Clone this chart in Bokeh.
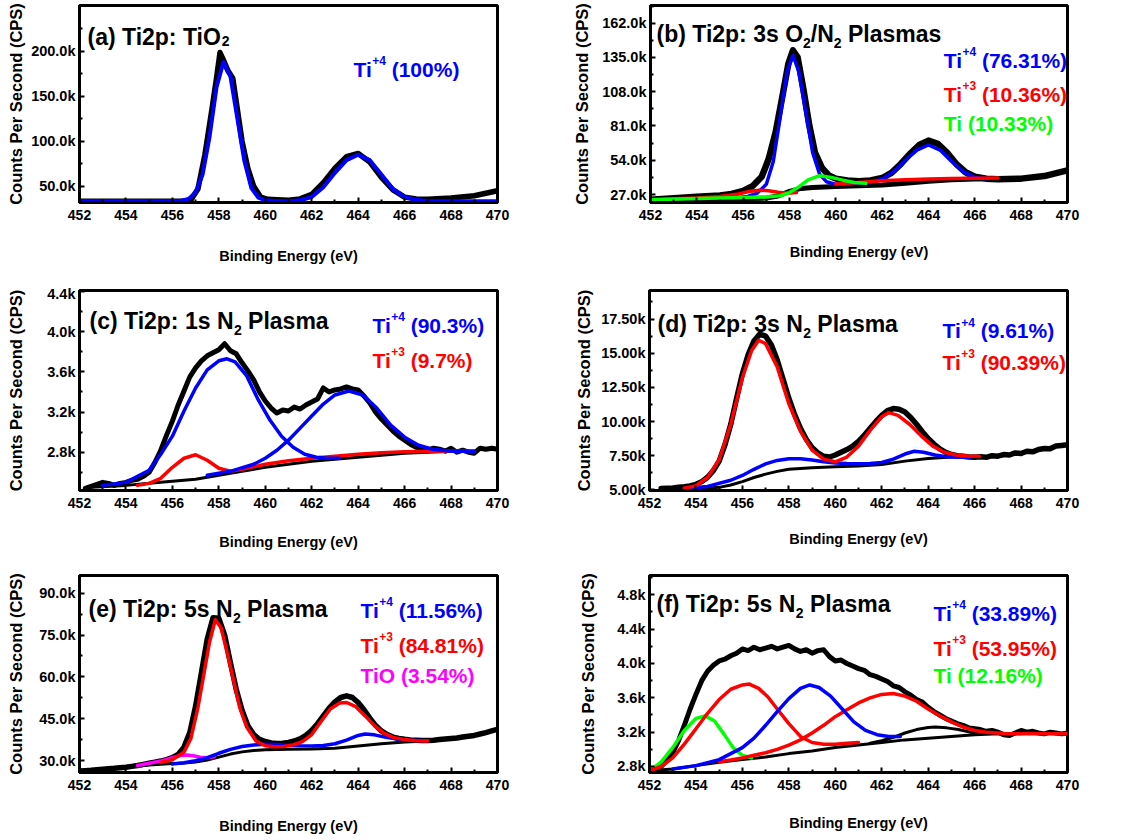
import math
from bokeh.plotting import figure
from bokeh.models import Label, FixedTicker, Range1d
from bokeh.layouts import column, row
from bokeh.embed import file_html
from bokeh.resources import INLINE

FONT = "Liberation Sans"
BLUE, RED, GREEN, MAGENTA, BLACK = "#0000FF", "#FF0000", "#00FF00", "#FF00FF", "#000000"

# ---------------- data ----------------
X_TICKS = [452, 454, 456, 458, 460, 462, 464, 466, 468, 470]
X_MINOR = [453, 455, 457, 459, 461, 463, 465, 467, 469]
X_LABEL = "Binding Energy (eV)"
Y_LABEL = "Counts Per Second (CPS)"

E_GRID = [452.0, 452.25, 452.5, 452.75, 453.0, 453.25, 453.5, 453.75, 454.0, 454.25, 454.5, 454.75,
          455.0, 455.25, 455.5, 455.75, 456.0, 456.25, 456.5, 456.75, 457.0, 457.25, 457.5, 457.75,
          458.0, 458.25, 458.5, 458.75, 459.0, 459.25, 459.5, 459.75, 460.0, 460.25, 460.5, 460.75,
          461.0, 461.25, 461.5, 461.75, 462.0, 462.25, 462.5, 462.75, 463.0, 463.25, 463.5, 463.75,
          464.0, 464.25, 464.5, 464.75, 465.0, 465.25, 465.5, 465.75, 466.0, 466.25, 466.5, 466.75,
          467.0, 467.25, 467.5, 467.75, 468.0, 468.25, 468.5, 468.75, 469.0, 469.25, 469.5, 469.75, 470.0]

# (a) TiO2  (kCPS)
A_YTICKS = [50, 100, 150, 200]
A_YLABELS = ["50.0k", "100.0k", "150.0k", "200.0k"]
A_RAW_X = [452.0, 456.5, 456.8, 457.1, 457.4, 457.7, 457.9, 458.05, 458.2, 458.4, 458.6, 458.8, 459.0, 459.25,
           459.5, 459.8, 460.1, 460.5, 461.0, 461.5, 462.0, 462.5, 463.0, 463.5, 464.0, 464.5, 465.0, 465.5,
           466.0, 466.5, 467.0, 468.0, 469.0, 470.0]
A_RAW_Y = [33.5, 33.5, 35.0, 47.0, 85.0, 135.0, 170.0, 198.5, 190.0, 178.0, 170.0, 135.0, 100.0, 70.0,
           50.0, 38.0, 35.5, 35.0, 34.5, 36.0, 41.0, 54.0, 70.0, 83.0, 86.5, 77.0, 60.0, 46.0,
           38.0, 36.0, 35.5, 37.0, 39.5, 45.0]
A_TI4_X = [452.0, 456.3, 456.7, 457.0, 457.3, 457.6, 457.9, 458.2, 458.5, 458.8, 459.1, 459.4, 459.7, 460.0,
           460.5, 461.0, 461.5, 462.0, 462.5, 463.0, 463.5, 464.0, 464.5, 465.0, 465.5, 466.0, 466.5, 467.0, 470.0]
A_TI4_Y = [33.5, 33.5, 36.0, 43.0, 63.0, 105.0, 160.0, 188.0, 172.0, 125.0, 78.0, 48.0, 37.5, 34.5,
           33.5, 33.5, 34.5, 38.0, 49.0, 65.0, 79.0, 85.0, 79.0, 63.0, 47.0, 38.0, 35.0, 33.5, 33.5]

# (b) 3s O2/N2
B_YTICKS = [27, 54, 81, 108, 135, 162]
B_YLABELS = ["27.0k", "54.0k", "81.0k", "108.0k", "135.0k", "162.0k"]
B_RAW_X = [452.0, 453.0, 454.0, 455.0, 455.5, 456.0, 456.4, 456.8, 457.1, 457.4, 457.7, 457.95, 458.15, 458.35,
           458.6, 458.85, 459.1, 459.4, 459.7, 460.0, 460.5, 461.0, 461.5, 462.0, 462.4, 462.8, 463.2, 463.6,
           464.0, 464.4, 464.8, 465.2, 465.6, 466.0, 466.5, 467.0, 468.0, 469.0, 470.0]
B_RAW_Y = [22.8, 24.0, 25.2, 26.3, 27.5, 29.8, 33.5, 41.0, 55.0, 76.0, 105.0, 130.0, 140.5, 135.0,
           110.0, 82.0, 60.0, 48.0, 42.0, 39.5, 38.0, 37.5, 38.0, 40.0, 44.0, 51.0, 59.0, 66.0,
           69.5, 67.0, 60.0, 51.0, 44.5, 41.0, 39.5, 39.0, 39.5, 41.5, 46.0]
B_BG_X = [452.0, 454.0, 456.0, 457.0, 457.5, 458.0, 458.5, 459.0, 459.5, 460.0, 461.0, 462.0, 463.0, 464.0,
          465.0, 466.0, 467.0]
B_BG_Y = [22.8, 23.2, 23.6, 24.2, 25.8, 29.5, 31.8, 32.6, 33.0, 33.3, 33.8, 34.4, 35.8, 37.4, 38.6, 39.2, 39.4]
B_TI4_X = [455.5, 456.2, 456.6, 457.0, 457.3, 457.6, 457.9, 458.15, 458.4, 458.7, 459.0, 459.3, 459.6, 460.0,
           460.5, 461.0, 461.5, 462.0, 462.5, 463.0, 463.5, 464.0, 464.5, 465.0, 465.5, 466.0, 466.5]
B_TI4_Y = [24.0, 25.5, 28.0, 35.0, 53.0, 88.0, 124.0, 136.5, 124.0, 92.0, 60.0, 43.0, 37.0, 35.0,
           35.0, 35.5, 36.5, 39.0, 45.0, 54.0, 62.0, 66.0, 62.0, 53.0, 45.0, 40.5, 39.5]
B_TI3A_X = [452.0, 454.0, 455.0, 455.8, 456.3, 456.7, 457.1, 457.5, 457.9, 458.3]
B_TI3A_Y = [22.8, 24.2, 25.5, 27.5, 29.5, 30.4, 30.0, 28.8, 28.0, 28.5]
B_TI3B_X = [460.0, 460.5, 461.0, 461.5, 462.0, 463.0, 464.0, 465.0, 466.0, 467.0]
B_TI3B_Y = [35.2, 35.8, 36.5, 37.2, 37.8, 38.6, 39.2, 39.6, 39.9, 40.0]
B_TI0_X = [452.0, 454.0, 456.0, 457.0, 457.6, 458.0, 458.4, 458.8, 459.3, 459.8, 460.3, 460.8, 461.3]
B_TI0_Y = [22.8, 23.8, 24.6, 25.0, 26.0, 28.5, 33.0, 38.5, 41.8, 40.5, 38.3, 36.5, 35.8]

# (c) 1s N2
C_YTICKS = [2.8, 3.2, 3.6, 4.0, 4.4]
C_YLABELS = ["2.8k", "3.2k", "3.6k", "4.0k", "4.4k"]
C_RAW_Y = [2.44, 2.46, 2.48, 2.50, 2.49, 2.47, 2.49, 2.50,
           2.52, 2.53, 2.56, 2.60, 2.70, 2.82, 2.97, 3.11,
           3.27, 3.41, 3.55, 3.64, 3.71, 3.76, 3.79, 3.82,
           3.88, 3.81, 3.78, 3.69, 3.61, 3.52, 3.40, 3.31,
           3.24, 3.19, 3.22, 3.21, 3.25, 3.23, 3.27, 3.30,
           3.33, 3.44, 3.40, 3.42, 3.43, 3.45, 3.43, 3.42,
           3.36, 3.29, 3.20, 3.13, 3.07, 3.01, 2.96, 2.92,
           2.88, 2.85, 2.84, 2.82, 2.84, 2.83, 2.81, 2.84,
           2.80, 2.82, 2.80, 2.79, 2.84, 2.83, 2.84, 2.83]
C_BG_X = [452.3, 454.0, 455.0, 456.0, 457.0, 458.0, 459.0, 460.0, 461.0, 462.0, 463.0, 464.0, 465.0, 466.0,
          467.0, 468.0, 469.0]
C_BG_Y = [2.45, 2.47, 2.49, 2.51, 2.53, 2.57, 2.61, 2.65, 2.68, 2.71, 2.73, 2.75, 2.77, 2.79, 2.80, 2.81, 2.81]
C_TI3_X = [454.5, 455.0, 455.5, 456.0, 456.5, 457.0, 457.5, 458.0, 458.5, 459.0, 460.0, 461.0, 462.0, 463.0,
           464.0, 465.0, 466.0, 467.0, 468.0, 469.0]
C_TI3_Y = [2.47, 2.49, 2.54, 2.65, 2.74, 2.775, 2.72, 2.64, 2.61, 2.63, 2.68, 2.715, 2.74, 2.76,
           2.78, 2.795, 2.805, 2.81, 2.81, 2.81]
C_TI4A_X = [453.0, 454.0, 455.0, 455.5, 456.0, 456.5, 457.0, 457.5, 458.0, 458.35, 458.7, 459.2, 459.7, 460.2,
            460.7, 461.2, 461.7, 462.2, 462.7, 463.2]
C_TI4A_Y = [2.47, 2.50, 2.62, 2.78, 2.96, 3.21, 3.44, 3.62, 3.71, 3.73, 3.70, 3.56, 3.32, 3.12,
            2.96, 2.85, 2.78, 2.75, 2.74, 2.74]
C_TI4B_X = [457.5, 458.5, 459.5, 460.0, 460.5, 461.0, 461.5, 462.0, 462.5, 463.0, 463.6, 464.2, 464.8, 465.4,
            466.0, 466.6, 467.2, 468.0, 469.0]
C_TI4B_Y = [2.57, 2.61, 2.68, 2.74, 2.82, 2.92, 3.04, 3.16, 3.28, 3.37, 3.41, 3.37, 3.24, 3.07,
            2.95, 2.87, 2.83, 2.81, 2.81]

# (d) 3s N2
D_YTICKS = [5.0, 7.5, 10.0, 12.5, 15.0, 17.5]
D_YLABELS = ["5.00k", "7.50k", "10.00k", "12.50k", "15.00k", "17.50k"]
D_RAW_Y = [5.10, 5.12, 5.14, 5.18, 5.22, 5.28, 5.40,
           5.60, 5.92, 6.40, 7.10, 8.30, 9.80, 11.70, 13.50,
           14.90, 15.90, 16.40, 16.25, 15.60, 14.50, 13.10, 11.70,
           10.50, 9.50, 8.70, 8.10, 7.70, 7.45, 7.40, 7.55,
           7.75, 7.95, 8.20, 8.55, 9.00, 9.50, 10.00, 10.45,
           10.80, 10.95, 10.90, 10.70, 10.30, 9.80, 9.25, 8.75,
           8.35, 8.00, 7.75, 7.58, 7.50, 7.45, 7.40, 7.38,
           7.42, 7.38, 7.50, 7.46, 7.58, 7.55, 7.70, 7.66,
           7.82, 7.78, 7.95, 8.02, 8.00, 8.20, 8.25, 8.30]
D_BG_X = [452.5, 454.0, 455.0, 455.5, 456.0, 456.5, 457.0, 457.5, 458.0, 459.0, 460.0, 461.0, 462.0, 463.0,
          464.0, 465.0, 466.0]
D_BG_Y = [5.05, 5.08, 5.18, 5.35, 5.60, 5.90, 6.15, 6.35, 6.50, 6.62, 6.68, 6.75, 6.86, 7.10, 7.30, 7.40, 7.45]
D_TI3_X = [453.5, 454.0, 454.5, 455.0, 455.5, 456.0, 456.4, 456.7, 457.0, 457.5, 458.0, 458.5, 459.0, 459.5,
           460.0, 460.5, 461.0, 461.5, 462.0, 462.3, 462.7, 463.2, 463.7, 464.2, 464.7, 465.2, 465.7, 466.2]
D_TI3_Y = [5.12, 5.30, 5.90, 7.20, 9.80, 13.20, 15.20, 15.95, 15.70, 14.00, 11.30, 9.30, 7.90, 7.25,
           7.05, 7.40, 8.20, 9.35, 10.35, 10.65, 10.45, 9.80, 8.95, 8.20, 7.75, 7.55, 7.48, 7.45]
D_TI4_X = [453.5, 454.5, 455.5, 456.0, 456.5, 457.0, 457.5, 458.0, 458.5, 459.0, 459.5, 460.0, 460.5, 461.0,
           461.5, 462.0, 462.5, 463.0, 463.4, 463.8, 464.3, 464.8, 465.3, 465.8]
D_TI4_Y = [5.10, 5.25, 5.70, 6.05, 6.50, 6.90, 7.15, 7.27, 7.27, 7.18, 7.05, 6.97, 6.92, 6.90,
           6.92, 7.00, 7.25, 7.62, 7.82, 7.75, 7.55, 7.42, 7.38, 7.38]

# (e) 5s N2
E_YTICKS = [30, 45, 60, 75, 90]
E_YLABELS = ["30.0k", "45.0k", "60.0k", "75.0k", "90.0k"]
E_RAW_Y = [26.2, 26.35, 26.5, 26.7, 26.9, 27.05, 27.2, 27.4, 27.6,
           27.9, 28.2, 28.6, 29.0, 29.4, 29.8, 30.3, 31.0,
           32.2, 34.8, 40.0, 49.5, 61.5, 73.5, 81.2, 81.0,
           75.0, 65.0, 55.5, 48.0, 42.5, 39.3, 37.6, 36.8,
           36.3, 36.1, 36.2, 36.5, 37.0, 37.8, 39.0, 40.8,
           43.2, 46.0, 48.8, 51.0, 52.6, 53.2, 52.6, 50.8,
           48.2, 45.2, 42.6, 40.6, 39.3, 38.4, 37.9, 37.6,
           37.4, 37.3, 37.2, 37.2, 37.3, 37.5, 37.7, 37.9,
           38.1, 38.4, 38.7, 39.0, 39.5, 40.0, 40.6, 41.2]
E_BG_X = [452.0, 453.0, 454.0, 455.0, 456.0, 456.5, 457.0, 457.5, 458.0, 458.5, 459.0, 459.5, 460.0, 461.0,
          462.0, 463.0, 464.0, 465.0, 466.0, 467.0]
E_BG_Y = [26.2, 26.9, 27.6, 28.4, 28.9, 29.1, 29.5, 30.2, 31.2, 32.3, 33.1, 33.6, 33.9, 34.0,
          34.1, 34.4, 35.2, 36.0, 36.6, 37.0]
E_TI3_X = [455.5, 456.0, 456.5, 456.8, 457.1, 457.4, 457.6, 457.85, 458.1, 458.35, 458.6, 458.9, 459.2, 459.6,
           460.0, 460.4, 460.8, 461.2, 461.6, 462.0, 462.4, 462.8, 463.2, 463.5, 463.9, 464.3, 464.7, 465.1,
           465.5, 466.0, 466.5, 467.0]
E_TI3_Y = [29.3, 30.3, 33.0, 38.0, 49.0, 63.0, 72.5, 80.5, 77.5, 69.0, 60.0, 49.0, 42.0, 37.0,
           35.3, 34.9, 35.0, 35.6, 36.8, 39.3, 44.0, 48.5, 50.6, 50.8, 49.3, 46.0, 42.5, 39.8,
           38.3, 37.5, 37.1, 37.0]
E_TI4_X = [456.0, 456.5, 457.0, 457.5, 458.0, 458.5, 459.0, 459.5, 460.0, 460.5, 461.0, 461.5, 462.0, 462.5,
           463.0, 463.5, 464.0, 464.3, 464.7, 465.2, 465.7, 466.2, 467.0]
E_TI4_Y = [28.7, 29.2, 29.9, 31.0, 32.6, 34.0, 35.0, 35.6, 35.8, 35.7, 35.5, 35.3, 35.2, 35.4,
           36.0, 37.3, 39.0, 39.5, 39.2, 38.3, 37.7, 37.3, 37.1]
E_TIO_X = [454.5, 455.0, 455.5, 456.0, 456.3, 456.6, 456.9, 457.2, 457.5, 457.8]
E_TIO_Y = [28.2, 29.0, 29.8, 31.0, 31.7, 32.0, 31.7, 31.2, 31.0, 31.3]

# (f) 5s N2
F_YTICKS = [2.8, 3.2, 3.6, 4.0, 4.4, 4.8]
F_YLABELS = ["2.8k", "3.2k", "3.6k", "4.0k", "4.4k", "4.8k"]
F_RAW_Y = [2.75, 2.76, 2.80, 2.87, 2.96, 3.10, 3.28, 3.47, 3.64,
           3.80, 3.91, 3.98, 4.03, 4.05, 4.09, 4.12, 4.17,
           4.15, 4.19, 4.16, 4.18, 4.20, 4.17, 4.19, 4.21,
           4.17, 4.14, 4.16, 4.12, 4.15, 4.16, 4.08, 4.03,
           4.04, 4.00, 3.97, 3.94, 3.92, 3.87, 3.85, 3.82,
           3.79, 3.74, 3.72, 3.67, 3.63, 3.58, 3.55, 3.49,
           3.44, 3.40, 3.36, 3.33, 3.30, 3.28, 3.25, 3.24,
           3.23, 3.21, 3.22, 3.20, 3.17, 3.16, 3.19, 3.22,
           3.20, 3.21, 3.19, 3.18, 3.20, 3.19, 3.18, 3.19]
F_BG_X = [452.0, 453.0, 454.0, 455.0, 456.0, 457.0, 458.0, 459.0, 460.0, 461.0, 462.0, 463.0, 464.0, 465.0,
          466.0, 467.0, 468.0]
F_BG_Y = [2.75, 2.77, 2.81, 2.85, 2.88, 2.91, 2.95, 2.98, 3.02, 3.05, 3.08, 3.11, 3.13, 3.15, 3.17, 3.18, 3.18]
F_BUMP_X = [461.5, 462.0, 462.5, 463.0, 463.5, 464.0, 464.3, 464.8, 465.3, 465.8, 466.3, 467.0]
F_BUMP_Y = [3.07, 3.10, 3.14, 3.19, 3.23, 3.255, 3.26, 3.25, 3.23, 3.20, 3.19, 3.18]
F_TI0_X = [452.0, 452.5, 453.0, 453.5, 454.0, 454.4, 454.8, 455.2, 455.6, 456.0, 456.4]
F_TI0_Y = [2.75, 2.85, 3.02, 3.22, 3.36, 3.39, 3.33, 3.18, 3.02, 2.93, 2.90]
F_TI3A_X = [452.0, 452.5, 453.0, 453.5, 454.0, 454.5, 455.0, 455.5, 456.0, 456.3, 456.7, 457.1, 457.5, 458.0,
            458.5, 459.0, 459.5, 460.0, 460.5, 461.0]
F_TI3A_Y = [2.75, 2.80, 2.90, 3.06, 3.24, 3.42, 3.58, 3.70, 3.75, 3.76, 3.71, 3.61, 3.47, 3.30,
            3.15, 3.08, 3.06, 3.06, 3.07, 3.08]
F_TI3B_X = [455.0, 455.5, 456.0, 456.5, 457.0, 457.5, 458.0, 458.5, 459.0, 459.5, 460.0, 460.5, 461.0, 461.5,
            462.0, 462.5, 463.0, 463.5, 464.0, 464.5, 465.0, 465.5, 466.0, 466.5, 467.0, 467.5, 468.0, 469.0, 470.0]
F_TI3B_Y = [2.855, 2.875, 2.90, 2.93, 2.96, 3.00, 3.05, 3.11, 3.19, 3.28, 3.38, 3.46, 3.54, 3.60,
            3.64, 3.65, 3.62, 3.56, 3.47, 3.39, 3.32, 3.26, 3.22, 3.20, 3.19, 3.18, 3.18, 3.18, 3.18]
F_TI4_X = [453.0, 454.0, 455.0, 456.0, 456.5, 457.0, 457.5, 458.0, 458.5, 458.9, 459.3, 459.8, 460.3, 460.8,
           461.3, 461.8, 462.3, 462.8]
F_TI4_Y = [2.77, 2.81, 2.88, 3.02, 3.13, 3.28, 3.44, 3.59, 3.71, 3.75, 3.72, 3.62, 3.47, 3.32,
           3.22, 3.17, 3.15, 3.15]

# ---------------- text metrics (Arial/Liberation Sans Bold, per 1000 em) ----------------
CW = {' ': 278, '!': 333, '%': 889, '(': 333, ')': 333, '+': 584, ',': 278, '-': 333, '.': 278, '/': 278, ':': 333,
      'A': 722, 'B': 722, 'C': 722, 'D': 722, 'E': 667, 'F': 611, 'G': 778, 'H': 722, 'I': 278, 'J': 556,
      'K': 722, 'L': 611, 'M': 833, 'N': 722, 'O': 778, 'P': 667, 'Q': 778, 'R': 722, 'S': 667, 'T': 611,
      'U': 722, 'V': 667, 'W': 944, 'X': 667, 'Y': 667, 'Z': 611,
      'a': 556, 'b': 611, 'c': 556, 'd': 611, 'e': 556, 'f': 333, 'g': 611, 'h': 611, 'i': 278, 'j': 278,
      'k': 556, 'l': 278, 'm': 889, 'n': 611, 'o': 611, 'p': 611, 'q': 611, 'r': 389, 's': 556, 't': 333,
      'u': 611, 'v': 556, 'w': 778, 'x': 556, 'y': 556, 'z': 500}
for _d in "0123456789":
    CW[_d] = 556


def tw(s, size):
    return sum(CW.get(c, 556) for c in s) / 1000.0 * size


# ---------------- layout geometry ----------------
COL_X = [0, 570]
COL_W = [570, 559]
COL_BR = [73, 62]
ROW_Y = [0, 285, 570]
ROW_H = [285, 285, 270]
BL = 79
FW = 418

PANELS = [
    dict(c=0, r=0, bt=4, fh=198, yr=(32.0, 250.8), yt=A_YTICKS, yl=A_YLABELS,
         curves=[(A_RAW_X, A_RAW_Y, BLACK, 5.5), (A_TI4_X, A_TI4_Y, BLUE, 4)],
         title=[("(a) Ti2p: TiO", "n"), ("2", "sub")], sub_dy=4.5, tpos=(87, 35.5),
         legend=[[("Ti", "n", BLUE), ("+4", "sup", BLUE), (" (100%)", "n", BLUE)]],
         lpos=(353, [68]), ylab_d=61.5, xlab_s=25),
    dict(c=1, r=0, bt=5, fh=198, yr=(20.7, 175.9), yt=B_YTICKS, yl=B_YLABELS,
         curves=[(B_RAW_X, B_RAW_Y, BLACK, 6.5), (B_BG_X, B_BG_Y, BLACK, 5),
                 (B_TI4_X, B_TI4_Y, BLUE, 3.5), (B_TI3A_X, B_TI3A_Y, RED, 3.5),
                 (B_TI3B_X, B_TI3B_Y, RED, 3.5), (B_TI0_X, B_TI0_Y, GREEN, 3.5)],
         title=[("(b) Ti2p: 3s O", "n"), ("2", "sub"), ("/N", "n"), ("2", "sub"), (" Plasmas", "n")],
         sub_dy=9, tpos=(655, 33.5),
         legend=[[("Ti", "n", BLUE), ("+4", "sup", BLUE), (" (76.31%)", "n", BLUE)],
                 [("Ti", "n", RED), ("+3", "sup", RED), (" (10.36%)", "n", RED)],
                 [("Ti (10.33%)", "n", GREEN)]],
         lpos=(943, [60, 94, 124]), ylab_d=66.5, xlab_s=21),
    dict(c=0, r=1, bt=5, fh=200, yr=(2.419, 4.41), yt=C_YTICKS, yl=C_YLABELS,
         curves=[(E_GRID[1:], C_RAW_Y, BLACK, 5), (C_BG_X, C_BG_Y, BLACK, 3),
                 (C_TI3_X, C_TI3_Y, RED, 3.5), (C_TI4A_X, C_TI4A_Y, BLUE, 3.5),
                 (C_TI4B_X, C_TI4B_Y, BLUE, 3.5)],
         title=[("(c) Ti2p: 1s N", "n"), ("2", "sub"), (" Plasma", "n")], sub_dy=9, tpos=(89, 320.7),
         legend=[[("Ti", "n", BLUE), ("+4", "sup", BLUE), (" (90.3%)", "n", BLUE)],
                 [("Ti", "n", RED), ("+3", "sup", RED), (" (9.7%)", "n", RED)]],
         lpos=(372, [325, 360]), ylab_d=61.5, xlab_s=23),
    dict(c=1, r=1, bt=2, fh=203, yr=(4.95, 19.59), yt=D_YTICKS, yl=D_YLABELS,
         curves=[(E_GRID[2:], D_RAW_Y, BLACK, 5.5), (D_BG_X, D_BG_Y, BLACK, 3),
                 (D_TI4_X, D_TI4_Y, BLUE, 3.5), (D_TI3_X, D_TI3_Y, RED, 3.5)],
         title=[("(d) Ti2p: 3s N", "n"), ("2", "sub"), (" Plasma", "n")], sub_dy=9, tpos=(657, 320.7),
         legend=[[("Ti", "n", BLUE), ("+4", "sup", BLUE), (" (9.61%)", "n", BLUE)],
                 [("Ti", "n", RED), ("+3", "sup", RED), (" (90.39%)", "n", RED)]],
         lpos=(942, [328, 360]), ylab_d=63, xlab_s=20),
    dict(c=0, r=2, bt=5, fh=197, yr=(25.7, 96.35), yt=E_YTICKS, yl=E_YLABELS,
         curves=[(E_GRID, E_RAW_Y, BLACK, 5.5), (E_BG_X, E_BG_Y, BLACK, 3),
                 (E_TIO_X, E_TIO_Y, MAGENTA, 3.5), (E_TI4_X, E_TI4_Y, BLUE, 3.5),
                 (E_TI3_X, E_TI3_Y, RED, 3.5)],
         title=[("(e) Ti2p: 5s N", "n"), ("2", "sub"), (" Plasma", "n")], sub_dy=9, tpos=(88, 608.3),
         legend=[[("Ti", "n", BLUE), ("+4", "sup", BLUE), (" (11.56%)", "n", BLUE)],
                 [("Ti", "n", RED), ("+3", "sup", RED), (" (84.81%)", "n", RED)],
                 [("TiO (3.54%)", "n", MAGENTA)]],
         lpos=(360, [610, 645, 675]), ylab_d=61.2, xlab_s=25),
    dict(c=1, r=2, bt=5, fh=197, yr=(2.73, 5.025), yt=F_YTICKS, yl=F_YLABELS,
         curves=[(E_GRID, F_RAW_Y, BLACK, 5), (F_BG_X, F_BG_Y, BLACK, 3), (F_BUMP_X, F_BUMP_Y, BLACK, 3),
                 (F_TI0_X, F_TI0_Y, GREEN, 3.5), (F_TI3A_X, F_TI3A_Y, RED, 3.5),
                 (F_TI3B_X, F_TI3B_Y, RED, 3.5), (F_TI4_X, F_TI4_Y, BLUE, 3.5)],
         title=[("(f) Ti2p: 5s N", "n"), ("2", "sub"), (" Plasma", "n")], sub_dy=9, tpos=(656, 603.3),
         legend=[[("Ti", "n", BLUE), ("+4", "sup", BLUE), (" (33.89%)", "n", BLUE)],
                 [("Ti", "n", RED), ("+3", "sup", RED), (" (53.95%)", "n", RED)],
                 [("Ti (12.16%)", "n", GREEN)]],
         lpos=(933, [613.3, 648.3, 675]), ylab_d=58.7, xlab_s=22),
]

TITLE_SIZE = 23
SUB_SIZE = 14
LEG_SIZE = 21
SUP_SIZE = 12
SUP_DY = 9
XT_SIZE = 14
YT_SIZE = 14.5
XL_SIZE = 14.5
YL_SIZE = 16.5


def build(P):
    c, r = P["c"], P["r"]
    w, h = COL_W[c], ROW_H[r]
    bt, fh = P["bt"], P["fh"]
    bb = h - bt - fh
    ylo, yhi = P["yr"]
    fl = COL_X[c] + BL
    ft = ROW_Y[r] + bt

    def to_data(px, py):
        x = 452.0 + (px - fl) / FW * 18.0
        y = yhi - (py - ft) / fh * (yhi - ylo)
        return x, y

    p = figure(width=w, height=h, x_range=Range1d(452, 470), y_range=Range1d(ylo, yhi),
               output_backend="svg", toolbar_location=None,
               min_border_left=BL, min_border_right=COL_BR[c], min_border_top=bt, min_border_bottom=bb)
    p.background_fill_color = "white"
    p.border_fill_color = "white"
    p.outline_line_color = "black"
    p.outline_line_width = 3
    p.xgrid.grid_line_color = None
    p.ygrid.grid_line_color = None

    xa = p.xaxis[0]
    xa.ticker = FixedTicker(ticks=X_TICKS, minor_ticks=X_MINOR)
    ya = p.yaxis[0]
    step = P["yt"][1] - P["yt"][0]
    yminor = [t + step / 2 for t in P["yt"]] + [P["yt"][0] - step / 2]
    ya.ticker = FixedTicker(ticks=P["yt"], minor_ticks=yminor)
    ya.major_label_overrides = dict(zip(P["yt"], P["yl"]))
    for ax in (xa, ya):
        ax.axis_line_color = "black"
        ax.axis_line_width = 3
        ax.major_tick_in = 5
        ax.major_tick_out = 0
        ax.minor_tick_in = 3
        ax.minor_tick_out = 0
        ax.major_tick_line_width = 2
        ax.minor_tick_line_width = 2
        ax.major_tick_line_color = "black"
        ax.minor_tick_line_color = "black"
        ax.major_label_text_font = FONT
        ax.major_label_text_font_style = "bold"
        ax.major_label_text_color = "black"
        ax.axis_label_text_font = FONT
        ax.axis_label_text_font_style = "bold"
        ax.axis_label_text_color = "black"
    xa.major_label_text_font_size = f"{XT_SIZE}px"
    xa.major_label_standoff = 7
    ya.major_label_text_font_size = f"{YT_SIZE}px"
    ya.major_label_standoff = 4

    # axis labels via Bokeh axes, standoffs tuned to reference placement
    xa.axis_label = X_LABEL
    xa.axis_label_text_font_size = f"{XL_SIZE}px"
    xa.axis_label_standoff = P["xlab_s"]
    ya.axis_label = Y_LABEL
    ya.axis_label_text_font_size = f"{YL_SIZE}px"
    wmax = max(tw(s, YT_SIZE) for s in P["yl"])
    ya.axis_label_standoff = max(0, int(round(P["ylab_d"] - 4 - wmax - YL_SIZE * 0.6)))

    for xs, ys, col, lw in P["curves"]:
        p.line(xs, ys, line_color=col, line_width=lw, line_join="round", line_cap="round")

    def put(px, py, txt, size, color):
        stripped = txt.lstrip(" ")
        px += tw(txt[:len(txt) - len(stripped)], size)
        x, y = to_data(px, py)
        p.add_layout(Label(x=x, y=y, text=stripped, text_font=FONT, text_font_style="bold",
                           text_font_size=f"{size}px", text_color=color, text_align="left",
                           text_baseline="alphabetic"))

    # title
    cx, by = P["tpos"]
    for txt, kind in P["title"]:
        if kind == "sub":
            put(cx, by + P["sub_dy"], txt, SUB_SIZE, BLACK)
            cx += tw(txt, SUB_SIZE)
        else:
            put(cx, by, txt, TITLE_SIZE, BLACK)
            cx += tw(txt, TITLE_SIZE)

    # legend texts
    lx, lbs = P["lpos"]
    for segs, bline in zip(P["legend"], lbs):
        cx = lx
        for txt, kind, col in segs:
            if kind == "sup":
                put(cx, bline - SUP_DY, txt, SUP_SIZE, col)
                cx += tw(txt, SUP_SIZE)
            else:
                put(cx, bline, txt, LEG_SIZE, col)
                cx += tw(txt, LEG_SIZE)
    return p


figs = [build(P) for P in PANELS]
layout = column(row(figs[0], figs[1]), row(figs[2], figs[3]), row(figs[4], figs[5]))
open("out.html", "w").write(file_html(layout, INLINE))
